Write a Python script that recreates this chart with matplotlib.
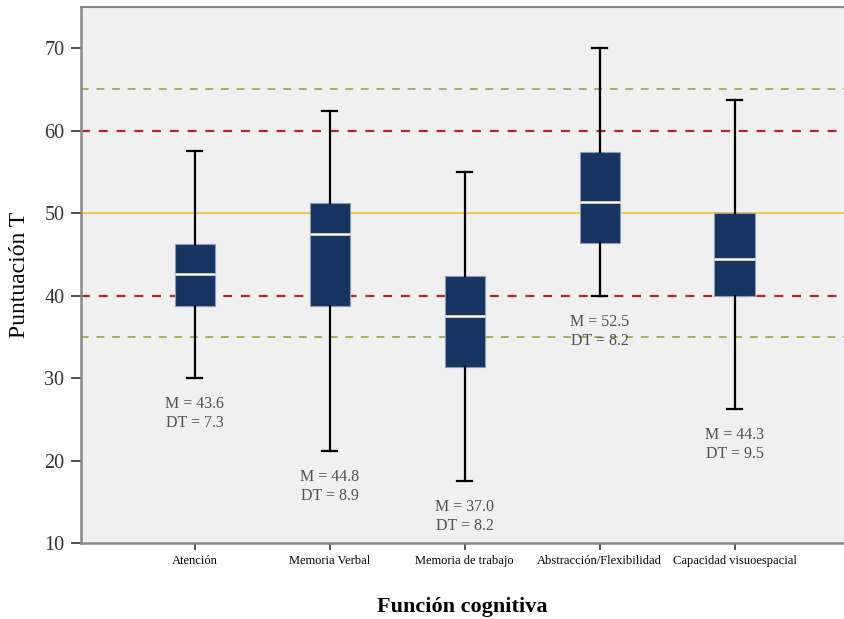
import matplotlib.pyplot as plt

categories = ["Atención", "Memoria Verbal", "Memoria de trabajo",
              "Abstracción/Flexibilidad", "Capacidad visuoespacial"]
whisker_low = [30.0, 21.2, 17.5, 40.0, 26.3]
q1 = [38.8, 38.8, 31.3, 46.4, 40.0]
median = [42.6, 47.5, 37.5, 51.3, 44.5]
q3 = [46.2, 51.2, 42.4, 57.4, 50.0]
whisker_high = [57.5, 62.4, 55.0, 70.0, 63.7]
means = ["43.6", "44.8", "37.0", "52.5", "44.3"]
sds = ["7.3", "8.9", "8.2", "8.2", "9.5"]

ref_green = [35, 65]
ref_red = [40, 60]
ref_yellow = 50

plt.rcParams['font.family'] = ['Liberation Serif', 'DejaVu Serif']

fig = plt.figure(figsize=(8.44, 6.19), dpi=100)
ax = fig.add_axes([81 / 844, 1 - 543 / 619, 1 - 81 / 844, (543 - 7) / 619])
ax.set_facecolor("#f0f0f0")

for y in ref_green:
    ax.axhline(y, color="#a8b05a", ls=(0, (4, 4)), lw=1.4, zorder=1)
for y in ref_red:
    ax.axhline(y, color="#b0252f", ls=(0, (4, 4)), lw=1.6, zorder=1)
ax.axhline(ref_yellow, color="#f2c230", lw=1.2, zorder=1)

stats = []
for i, name in enumerate(categories):
    stats.append({"label": name, "whislo": whisker_low[i], "q1": q1[i],
                  "med": median[i], "q3": q3[i], "whishi": whisker_high[i],
                  "fliers": []})

pos = list(range(1, len(categories) + 1))
ax.bxp(stats, positions=pos, widths=0.3, patch_artist=True, showfliers=False,
       boxprops=dict(facecolor="#17335f", edgecolor="#8a9bb5", lw=0.8),
       medianprops=dict(color="white", lw=1.8),
       whiskerprops=dict(color="black", lw=1.6),
       capprops=dict(color="black", lw=1.6),
       capwidths=0.11, zorder=3)

for i in range(len(categories)):
    ax.annotate(f"M = {means[i]}\nDT = {sds[i]}", xy=(pos[i], whisker_low[i]),
                xytext=(0, -13), textcoords="offset points", ha="center",
                va="top", fontsize=11.5, color="#505050", linespacing=1.25)

ax.set_xlim(0.156, 5.81)
ax.set_ylim(10, 75)
ax.set_yticks([10, 20, 30, 40, 50, 60, 70])
ax.set_xticks(pos)
ax.set_xticklabels(categories, fontsize=9)
ax.tick_params(axis="y", labelsize=14.5, length=7, width=1.2, color="#333333",
               pad=5, labelcolor="#333333")
ax.tick_params(axis="x", length=5, width=1.2, color="#333333")
ax.spines["right"].set_visible(False)
ax.spines["top"].set_color("#888888")
ax.spines["top"].set_linewidth(1.5)
for s in ["left", "bottom"]:
    ax.spines[s].set_color("#888888")
    ax.spines[s].set_linewidth(1.8)

ax.set_ylabel("Puntuación T", fontsize=17, labelpad=10)
ax.set_xlabel("Función cognitiva", fontsize=16, fontweight="bold", labelpad=22)

fig.savefig("out.png", dpi=100)
